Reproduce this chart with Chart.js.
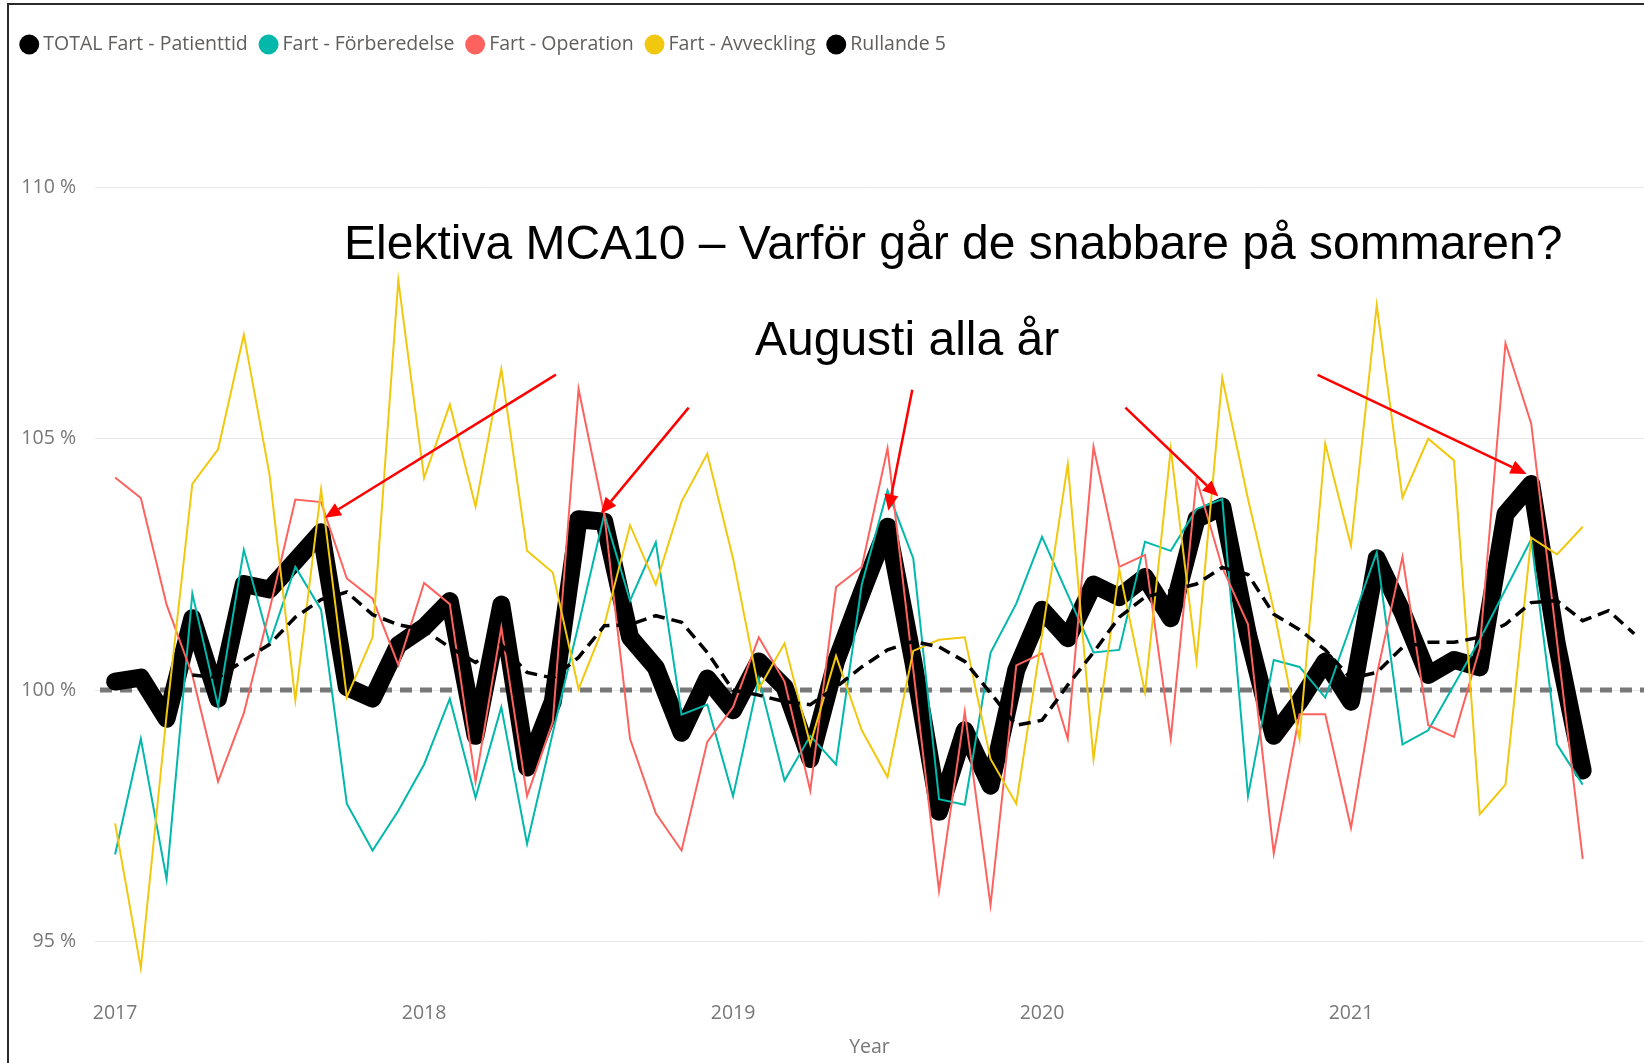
<!DOCTYPE html>
<html>
<head>
<meta charset="utf-8">
<script src="https://cdn.jsdelivr.net/npm/chart.js@4.4.1/dist/chart.umd.min.js"></script>
<style>
  html, body { margin: 0; padding: 0; background: #fff; }
  #wrap { position: relative; width: 1644px; height: 1063px; overflow: hidden; }
  #frame { position: absolute; left: 7px; top: 3px; width: 1700px; height: 1100px;
           border-left: 2px solid #2a2a2a; border-top: 2px solid #2a2a2a; pointer-events: none; }
</style>
</head>
<body>
<div id="wrap">
  <canvas id="myChart" width="1644" height="1063"></canvas>
  <div id="frame"></div>
</div>
<script>
// months from Jan 2017, one value per month
const yearLabels = ['2017', '2018', '2019', '2020', '2021'];
const yTicks = [95, 100, 105, 110];
const referenceValue = 100;

const total = [100.17, 100.25, 99.43, 101.43, 99.83, 102.11, 102.0, 102.57, 103.14, 100.06, 99.83, 100.9,
  101.25, 101.77, 99.09, 101.7, 98.46, 99.77, 103.4, 103.35, 101.05, 100.45, 99.15, 100.23,
  99.6, 100.57, 100.06, 98.63, 100.57, 101.94, 103.25, 100.57, 97.58, 99.2, 98.1, 100.4,
  101.6, 101.03, 102.1, 101.85, 102.25, 101.43, 103.4, 103.65, 101.1, 99.09, 99.77, 100.57,
  99.77, 102.62, 101.55, 100.3, 100.6, 100.45, 103.5, 104.1, 100.9, 98.4];

const forberedelse = [96.73, 99.03, 96.24, 101.92, 99.68, 102.79, 100.93, 102.45, 101.6, 97.74, 96.81, 97.6,
  98.52, 99.83, 97.86, 99.66, 96.94, 99.15, 101.3, 103.5, 101.78, 102.94, 99.51, 99.71,
  97.89, 100.23, 98.2, 99.09, 98.52, 102.1, 103.97, 102.62, 97.83, 97.72, 100.74, 101.72,
  103.05, 101.9, 100.75, 100.8, 102.95, 102.77, 103.6, 103.8, 97.89, 100.6, 100.46, 99.85,
  101.3, 102.74, 98.92, 99.2, 100.1, 101.0, 102.0, 103.0, 98.92, 98.12];

const operation = [104.23, 103.82, 101.7, 100.3, 98.18, 99.54, 101.6, 103.79, 103.74, 102.22, 101.82, 100.5,
  102.13, 101.71, 98.18, 101.25, 97.89, 99.37, 105.99, 103.5, 99.03, 97.55, 96.81, 98.97,
  99.66, 101.05, 100.17, 98.0, 102.05, 102.45, 104.81, 100.4, 96.01, 99.57, 95.72, 100.49,
  100.73, 99.03, 104.84, 102.45, 102.69, 99.03, 104.2, 102.44, 101.31, 96.75, 99.52, 99.52,
  97.26, 100.3, 102.65, 99.3, 99.07, 100.83, 106.9, 105.3, 100.97, 96.64];

const avveckling = [97.35, 94.47, 99.5, 104.1, 104.79, 107.07, 104.28, 99.8, 103.99, 99.86, 101.05, 108.15,
  104.22, 105.68, 103.65, 106.39, 102.77, 102.34, 100.02, 101.3, 103.28, 102.1, 103.75, 104.7,
  102.62, 100.02, 100.93, 98.92, 100.68, 99.2, 98.27, 100.78, 101.0, 101.05, 98.63, 97.74,
  101.1, 104.5, 98.63, 102.4, 99.95, 104.8, 100.58, 106.21, 103.8, 101.6, 99.03, 104.9,
  102.87, 107.66, 103.83, 105.0, 104.57, 97.53, 98.12, 103.03, 102.7, 103.25];

const rullande = [null, null, null, 100.3, 100.25, 100.59, 100.91, 101.45, 101.8, 101.95, 101.5, 101.3,
  101.2, 100.85, 100.55, 100.9, 100.35, 100.24, 100.65, 101.28, 101.3, 101.48, 101.35, 100.75,
  100.0, 99.9, 99.77, 99.71, 100.06, 100.46, 100.8, 100.97, 100.86, 100.57, 99.94, 99.3,
  99.4, 100.1, 100.75, 101.45, 101.85, 101.98, 102.11, 102.44, 102.3, 101.51, 101.2, 100.8,
  100.23, 100.35, 100.85, 100.95, 100.95, 101.05, 101.31, 101.74, 101.78, 101.38, 101.58, 101.12];

// overlay text and arrows (tip at month index / value, tail as pixel offset)
const titleText = 'Elektiva MCA10 \u2013 Varför går de snabbare på sommaren?';
const subText = 'Augusti alla år';
const arrows = [
  { at: 8.15, val: 103.43, dx: 231, dy: -143 },
  { at: 18.86, val: 103.51, dx: 88, dy: -106 },
  { at: 30.03, val: 103.57, dx: 24, dy: -121 },
  { at: 42.85, val: 103.85, dx: -93, dy: -89 },
  { at: 54.82, val: 104.30, dx: -209, dy: -99 }
];

const toPoints = arr => arr.map((v, i) => ({ x: i, y: v }));

Chart.defaults.font.family = "'Open Sans', sans-serif";

const refLine = {
  id: 'refLine',
  beforeDatasetsDraw(chart) {
    const { ctx, chartArea, scales: { y } } = chart;
    const py = y.getPixelForValue(referenceValue);
    ctx.save();
    ctx.strokeStyle = 'rgba(105,105,105,0.9)';
    ctx.lineWidth = 5;
    ctx.setLineDash([12, 8]);
    ctx.beginPath();
    ctx.moveTo(chartArea.left + 5, py);
    ctx.lineTo(chartArea.right, py);
    ctx.stroke();
    ctx.restore();
  }
};

const notes = {
  id: 'notes',
  afterDraw(chart) {
    const { ctx, scales: { x, y } } = chart;
    ctx.save();
    ctx.fillStyle = '#000';
    ctx.font = '48px "Liberation Sans", Arial, sans-serif';
    ctx.textBaseline = 'middle';
    ctx.textAlign = 'left';
    ctx.fillText(titleText, 344, 245.5);
    ctx.fillText(subText, 755, 342);

    arrows.forEach(a => {
      const tx = x.getPixelForValue(a.at), ty = y.getPixelForValue(a.val);
      const sx = tx + a.dx, sy = ty + a.dy;
      const ang = Math.atan2(ty - sy, tx - sx);
      const head = 16, half = 7;
      const bx = tx - head * Math.cos(ang), by = ty - head * Math.sin(ang);
      ctx.strokeStyle = '#ff0000';
      ctx.fillStyle = '#ff0000';
      ctx.lineWidth = 2.5;
      ctx.beginPath();
      ctx.moveTo(sx, sy);
      ctx.lineTo(bx, by);
      ctx.stroke();
      ctx.beginPath();
      ctx.moveTo(tx, ty);
      ctx.lineTo(bx + half * Math.sin(ang), by - half * Math.cos(ang));
      ctx.lineTo(bx - half * Math.sin(ang), by + half * Math.cos(ang));
      ctx.closePath();
      ctx.fill();
    });
    ctx.restore();
  }
};

const data = {
  datasets: [
    {
      label: 'TOTAL Fart - Patienttid',
      data: toPoints(total),
      borderColor: '#000',
      backgroundColor: '#000',
      borderWidth: 18,
      borderJoinStyle: 'round',
      borderCapStyle: 'round',
      order: 5
    },
    {
      label: 'Fart - Förberedelse',
      data: toPoints(forberedelse),
      borderColor: '#01B8AA',
      backgroundColor: '#01B8AA',
      borderWidth: 2,
      order: 4
    },
    {
      label: 'Fart - Operation',
      data: toPoints(operation),
      borderColor: '#FD625E',
      backgroundColor: '#FD625E',
      borderWidth: 2,
      order: 3
    },
    {
      label: 'Fart - Avveckling',
      data: toPoints(avveckling),
      borderColor: '#F2C80F',
      backgroundColor: '#F2C80F',
      borderWidth: 2,
      order: 2
    },
    {
      label: 'Rullande 5',
      data: toPoints(rullande),
      borderColor: '#000',
      backgroundColor: '#000',
      borderWidth: 3.5,
      borderDash: [12, 7],
      order: 1
    }
  ]
};

const config = {
  type: 'line',
  data,
  options: {
    responsive: false,
    animation: false,
    layout: { padding: { left: 8.5, right: 0, top: 18.25, bottom: 0 } },
    elements: { point: { radius: 0, hoverRadius: 0 }, line: { tension: 0 } },
    plugins: {
      tooltip: { enabled: false },
      legend: {
        position: 'top',
        align: 'start',
        labels: {
          usePointStyle: true,
          pointStyle: 'circle',
          boxWidth: 8.5,
          boxHeight: 14.1,
          padding: 16.5,
          color: '#605E5C',
          font: { size: 19.5 },
          sort: (a, b) => a.datasetIndex - b.datasetIndex,
          generateLabels(chart) {
            const items = Chart.defaults.plugins.legend.labels.generateLabels(chart);
            items.forEach(it => {
              it.lineWidth = 0;
              it.lineDash = [];
              it.pointStyle = 'circle';
              it.fillStyle = it.strokeStyle;
            });
            return items;
          }
        }
      }
    },
    scales: {
      x: {
        type: 'linear',
        min: -0.78,
        max: 59.38,
        grid: { display: false },
        border: { display: false },
        afterBuildTicks: s => { s.ticks = yearLabels.map((_, k) => ({ value: k * 12 })); },
        ticks: {
          padding: 1.8,
          color: '#777',
          font: { size: 19.5 },
          maxRotation: 0,
          autoSkip: false,
          callback: v => yearLabels[v / 12]
        },
        title: {
          display: true,
          text: 'Year',
          color: '#777',
          font: { size: 19.5 },
          padding: { top: 9.1, bottom: 3.8 }
        }
      },
      y: {
        min: 94,
        max: 112.45,
        afterBuildTicks: s => { s.ticks = yTicks.map(v => ({ value: v })); },
        afterFit: s => { s.width = 86.5; },
        grid: { color: '#e8e8e8', lineWidth: 1, drawTicks: false },
        border: { display: false },
        ticks: {
          padding: 19,
          color: '#777',
          font: { size: 19.5 },
          callback: v => v + ' %'
        }
      }
    }
  },
  plugins: [refLine, notes]
};

const myChart = new Chart(document.getElementById('myChart'), config);
</script>
</body>
</html>
